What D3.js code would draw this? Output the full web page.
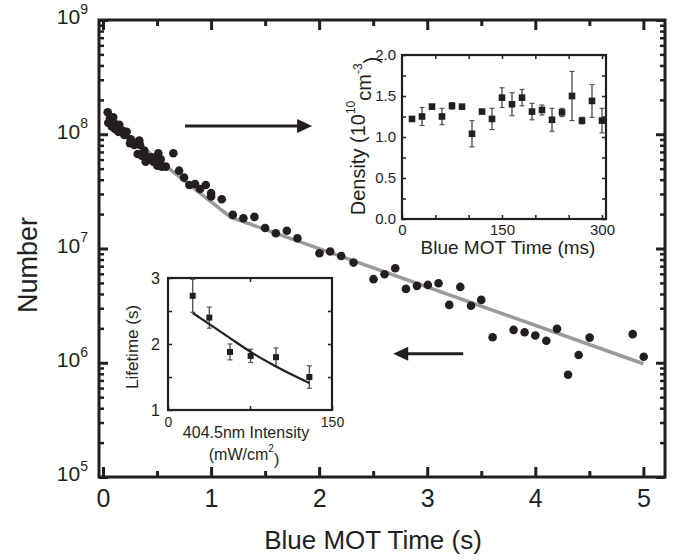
<!DOCTYPE html>
<html>
<head>
<meta charset="utf-8">
<script src="https://cdn.jsdelivr.net/npm/d3@7"></script>
<style>
body { margin: 0; background: #fff; }
text { font-family: "Liberation Sans", Arial, sans-serif; fill: #231f20; }
.axis path.domain { display: none; }
</style>
</head>
<body>
<svg width="677" height="560"></svg>
<script>
// main panel: atom number vs blue MOT time
const motTime = [0.044, 0.065, 0.049, 0.095, 0.102, 0.081, 0.111, 0.151, 0.142, 0.179, 0.204, 0.219, 0.197, 0.256, 0.25,
    0.29, 0.312, 0.336, 0.343, 0.321, 0.358, 0.382, 0.395, 0.419, 0.405, 0.451, 0.466, 0.497, 0.512, 0.534, 0.503,
    0.544, 0.581, 0.651, 0.704, 0.75, 0.799, 0.852, 0.898, 0.951, 1.0, 1.0, 1.099, 1.201, 1.299, 1.401, 1.5, 1.599,
    1.701, 1.799, 2.003, 2.102, 2.204, 2.318, 2.503, 2.605, 2.704, 2.803, 2.905, 3.006, 3.105, 3.204, 3.306, 3.405,
    3.5, 3.605, 3.799, 3.901, 4.0, 4.102, 4.201, 4.303, 4.401, 4.503, 4.901, 5.003];
const numberMillions = [156, 138, 126, 141, 125, 117, 111, 121, 105, 108, 102, 105, 98.6, 90.4, 83.4,
    80.6, 84.5, 87.9, 80.6, 67.2, 65.0, 71.9, 57.6, 60.4, 63.7, 62.9, 57.6, 60.4, 68.2, 60.4, 53.1,
    52.1, 52.1, 68.2, 48.0, 41.7, 36.0, 36.7, 33.2, 36.0, 30.5, 28.5, 27.0, 19.7, 18.4, 18.9, 15.1, 13.6,
    14.3, 12.3, 9.10, 9.40, 8.61, 7.53, 5.39, 5.96, 6.72, 4.43, 4.71, 4.80, 4.97, 3.21, 4.61, 3.15,
    3.55, 1.67, 1.94, 1.85, 1.73, 1.56, 1.98, 0.784, 1.17, 1.66, 1.78, 1.13];
const fitTime = [0.1, 0.6, 1.18, 5.0];
const fitMillions = [123, 51, 18.8, 0.98];
const timeTicks = [0, 1, 2, 3, 4, 5];
const decadeTicks = [1e5, 1e6, 1e7, 1e8, 1e9];

// inset: density vs time
const densTime = [15, 30, 45, 60, 75, 90, 105, 120, 135, 150, 165, 180, 195, 210, 225, 240, 255, 270, 285, 300];
const density = [1.22, 1.25, 1.37, 1.25, 1.38, 1.37, 1.04, 1.31, 1.22, 1.48, 1.40, 1.48, 1.31, 1.33, 1.21, 1.30, 1.50, 1.20, 1.44, 1.20];
const densErr = [0.03, 0.11, 0.03, 0.1, 0.04, 0.02, 0.16, 0.02, 0.13, 0.12, 0.14, 0.1, 0.1, 0.06, 0.14, 0.05, 0.3, 0.04, 0.2, 0.15];

// inset: lifetime vs intensity
const intensity = [22.6, 37.8, 56.7, 75.6, 98.8, 129.3];
const lifetime = [2.73, 2.40, 1.88, 1.82, 1.80, 1.50];
const lifeErr = [0.25, 0.16, 0.12, 0.1, 0.14, 0.17];
const lifeFitI = [22.6, 37.8, 56.7, 75.6, 98.8, 129.2];
const lifeFitT = [2.47, 2.30, 2.09, 1.88, 1.66, 1.41];

const ink = '#231f20';
const svg = d3.select('svg');

// ---------- main panel ----------
const x = d3.scaleLinear().domain([-0.037, 5.2]).range([99, 665]);
const y = d3.scaleLog().domain([1e5, 1e9]).range([477, 20]);

let minorY = [];
for (let e = 5; e < 9; e++) for (let m = 2; m < 10; m++) minorY.push(m * Math.pow(10, e));
const minorX = [0.5, 1.5, 2.5, 3.5, 4.5];

const styleAxis = (g, w) => {
    g.attr('class', 'axis');
    g.selectAll('.tick line').attr('stroke', ink).attr('stroke-width', w);
};

svg.append('g').attr('transform', 'translate(0,477)')
    .call(d3.axisBottom(x).tickValues(timeTicks).tickSize(-10).tickPadding(12).tickFormat(d3.format('d')))
    .call(g => styleAxis(g, 3))
    .call(g => g.selectAll('text').attr('font-size', 25).attr('fill', ink));
svg.append('g').attr('transform', 'translate(0,477)')
    .call(d3.axisBottom(x).tickValues(minorX).tickSize(-6).tickFormat(''))
    .call(g => styleAxis(g, 3));
svg.append('g').attr('transform', 'translate(0,20)')
    .call(d3.axisTop(x).tickValues(timeTicks).tickSize(-10).tickFormat(''))
    .call(g => styleAxis(g, 3));
svg.append('g').attr('transform', 'translate(0,20)')
    .call(d3.axisTop(x).tickValues(minorX).tickSize(-6).tickFormat(''))
    .call(g => styleAxis(g, 3));

svg.append('g').attr('transform', 'translate(99,0)')
    .call(d3.axisLeft(y).tickValues(decadeTicks).tickSize(-9).tickPadding(11).tickFormat(d => d))
    .call(g => styleAxis(g, 3))
    .call(g => g.selectAll('text').attr('dy', '0.38em').each(function(d) {
        const t = d3.select(this);
        t.text(null).attr('fill', ink);
        t.append('tspan').attr('font-size', 21).text('10');
        t.append('tspan').attr('font-size', 14).attr('dy', '-0.75em').text(Math.round(Math.log10(d)));
    }));
svg.append('g').attr('transform', 'translate(99,0)')
    .call(d3.axisLeft(y).tickValues(minorY).tickSize(-5).tickFormat(''))
    .call(g => styleAxis(g, 2.5));
svg.append('g').attr('transform', 'translate(665,0)')
    .call(d3.axisRight(y).tickValues(decadeTicks).tickSize(-9).tickFormat(''))
    .call(g => styleAxis(g, 3));
svg.append('g').attr('transform', 'translate(665,0)')
    .call(d3.axisRight(y).tickValues(minorY).tickSize(-5).tickFormat(''))
    .call(g => styleAxis(g, 2.5));

svg.append('rect')
    .attr('x', x.range()[0]).attr('y', y.range()[1])
    .attr('width', x.range()[1] - x.range()[0]).attr('height', y.range()[0] - y.range()[1])
    .attr('fill', 'none').attr('stroke', ink).attr('stroke-width', 3);

// fit line
const fitLine = d3.line().x(d => x(d[0])).y(d => y(d[1] * 1e6));
svg.append('path')
    .datum(fitTime.map((t, i) => [t, fitMillions[i]]))
    .attr('d', fitLine)
    .attr('fill', 'none').attr('stroke', '#9a9a9a').attr('stroke-width', 3.5);

svg.append('g').selectAll('circle')
    .data(motTime.map((t, i) => [t, numberMillions[i] * 1e6]))
    .join('circle')
    .attr('cx', d => x(d[0])).attr('cy', d => y(d[1]))
    .attr('r', 4.3).attr('fill', ink);

// axis titles
svg.append('text').attr('x', 373).attr('y', 549).attr('text-anchor', 'middle')
    .attr('font-size', 26).text('Blue MOT Time (s)');
svg.append('text').attr('transform', 'translate(37,265) rotate(-90)').attr('text-anchor', 'middle')
    .attr('font-size', 27).text('Number');

// arrows
const arrow = (x0, x1, yv) => {
    const px0 = x(x0), px1 = x(x1), py = y(yv);
    const dir = Math.sign(px1 - px0);
    svg.append('line').attr('x1', px0).attr('x2', px1 - dir * 12).attr('y1', py).attr('y2', py)
        .attr('stroke', ink).attr('stroke-width', 3);
    svg.append('path')
        .attr('d', `M${px1},${py} L${px1 - dir * 15},${py - 7} L${px1 - dir * 15},${py + 7} Z`)
        .attr('fill', ink);
};
arrow(0.759, 1.935, 1.18e8);
arrow(3.333, 2.685, 1.2e6);

// ---------- inset: density ----------
const x1 = d3.scaleLinear().domain([0, 306]).range([402, 606]);
const y1 = d3.scaleLinear().domain([0, 2]).range([219, 55]);

svg.append('rect').attr('x', 402).attr('y', 55).attr('width', 204).attr('height', 164).attr('fill', '#fff');

svg.append('g').attr('transform', 'translate(0,219)')
    .call(d3.axisBottom(x1).tickValues([0, 50, 100, 150, 200, 250, 300]).tickSize(-4).tickPadding(5)
        .tickFormat(d => d % 150 === 0 ? d : ''))
    .call(g => styleAxis(g, 1.5))
    .call(g => g.selectAll('text').attr('font-size', 15).attr('fill', ink));
svg.append('g').attr('transform', 'translate(0,55)')
    .call(d3.axisTop(x1).tickValues([50, 100, 150, 200, 250, 300]).tickSize(-4).tickFormat(''))
    .call(g => styleAxis(g, 1.5));
svg.append('g').attr('transform', 'translate(402,0)')
    .call(d3.axisLeft(y1).tickValues(d3.range(0, 2.01, 0.25)).tickSize(-4).tickPadding(6)
        .tickFormat(d => (d * 2) % 1 === 0 ? d3.format('.1f')(d) : ''))
    .call(g => styleAxis(g, 1.5))
    .call(g => g.selectAll('text').attr('font-size', 15).attr('fill', ink));
svg.append('g').attr('transform', 'translate(606,0)')
    .call(d3.axisRight(y1).tickValues(d3.range(0, 2.01, 0.25)).tickSize(-4).tickFormat(''))
    .call(g => styleAxis(g, 1.5));
svg.append('rect').attr('x', 402).attr('y', 55).attr('width', 204).attr('height', 164)
    .attr('fill', 'none').attr('stroke', ink).attr('stroke-width', 2.2);

const densG = svg.append('g');
densTime.forEach((t, i) => {
    const cx = x1(t), lo = y1(density[i] - densErr[i]), hi = y1(density[i] + densErr[i]);
    densG.append('line').attr('x1', cx).attr('x2', cx).attr('y1', lo).attr('y2', hi).attr('stroke', '#555').attr('stroke-width', 1.4);
    [lo, hi].forEach(v => densG.append('line').attr('x1', cx - 2.5).attr('x2', cx + 2.5).attr('y1', v).attr('y2', v)
        .attr('stroke', '#555').attr('stroke-width', 1.2));
    densG.append('rect').attr('x', cx - 3.3).attr('y', y1(density[i]) - 3.3).attr('width', 6.6).attr('height', 6.6).attr('fill', ink);
});

svg.append('text').attr('x', 508).attr('y', 254).attr('text-anchor', 'middle')
    .attr('font-size', 19).text('Blue MOT Time (ms)');
const dTitle = svg.append('text').attr('transform', 'translate(365,136) rotate(-90)').attr('text-anchor', 'middle')
    .attr('font-size', 20);
dTitle.append('tspan').text('Density (10');
dTitle.append('tspan').attr('font-size', 12).attr('dy', '-0.8em').text('10');
dTitle.append('tspan').attr('dy', '0.8em').text('cm');
dTitle.append('tspan').attr('font-size', 12).attr('dy', '-0.8em').text('-3');
dTitle.append('tspan').attr('dy', '0.8em').text(')');

// ---------- inset: lifetime ----------
const x2 = d3.scaleLinear().domain([0, 150]).range([168, 332]);
const y2 = d3.scaleLinear().domain([1, 3]).range([410, 278]);

svg.append('rect').attr('x', 168).attr('y', 278).attr('width', 164).attr('height', 132).attr('fill', '#fff');

svg.append('g').attr('transform', 'translate(0,410)')
    .call(d3.axisBottom(x2).tickValues([0, 75, 150]).tickSize(-4).tickPadding(7)
        .tickFormat(d => d === 75 ? '' : d))
    .call(g => styleAxis(g, 1.5))
    .call(g => g.selectAll('text').attr('font-size', 14).attr('fill', ink));
svg.append('g').attr('transform', 'translate(0,278)')
    .call(d3.axisTop(x2).tickValues([75]).tickSize(-4).tickFormat(''))
    .call(g => styleAxis(g, 1.5));
svg.append('g').attr('transform', 'translate(168,0)')
    .call(d3.axisLeft(y2).tickValues([1, 1.5, 2, 2.5, 3]).tickSize(-4).tickPadding(8)
        .tickFormat(d => d % 1 === 0 ? d : ''))
    .call(g => styleAxis(g, 1.5))
    .call(g => g.selectAll('text').attr('font-size', 16).attr('fill', ink));
svg.append('g').attr('transform', 'translate(332,0)')
    .call(d3.axisRight(y2).tickValues([1.5, 2, 2.5]).tickSize(-4).tickFormat(''))
    .call(g => styleAxis(g, 1.5));
svg.append('rect').attr('x', 168).attr('y', 278).attr('width', 164).attr('height', 132)
    .attr('fill', 'none').attr('stroke', ink).attr('stroke-width', 2.2);

const lifeG = svg.append('g');
intensity.forEach((v, i) => {
    const cx = x2(v), lo = y2(lifetime[i] - lifeErr[i]), hi = y2(lifetime[i] + lifeErr[i]);
    lifeG.append('line').attr('x1', cx).attr('x2', cx).attr('y1', lo).attr('y2', hi).attr('stroke', '#555').attr('stroke-width', 1.4);
    [lo, hi].forEach(v2 => lifeG.append('line').attr('x1', cx - 2.5).attr('x2', cx + 2.5).attr('y1', v2).attr('y2', v2)
        .attr('stroke', '#555').attr('stroke-width', 1.2));
    lifeG.append('rect').attr('x', cx - 3).attr('y', y2(lifetime[i]) - 3).attr('width', 6).attr('height', 6).attr('fill', ink);
});
svg.append('path')
    .datum(lifeFitI.map((v, i) => [v, lifeFitT[i]]))
    .attr('d', d3.line().x(d => x2(d[0])).y(d => y2(d[1])).curve(d3.curveMonotoneX))
    .attr('fill', 'none').attr('stroke', ink).attr('stroke-width', 2.2);

svg.append('text').attr('transform', 'translate(138,347) rotate(-90)').attr('text-anchor', 'middle')
    .attr('font-size', 17).text('Lifetime (s)');
svg.append('text').attr('x', 246).attr('y', 438).attr('text-anchor', 'middle')
    .attr('font-size', 16).text('404.5nm Intensity');
const uTitle = svg.append('text').attr('x', 244).attr('y', 460).attr('text-anchor', 'middle').attr('font-size', 16);
uTitle.append('tspan').text('(mW/cm');
uTitle.append('tspan').attr('font-size', 10).attr('dy', '-0.8em').text('2');
uTitle.append('tspan').attr('dy', '0.8em').text(')');
</script>
</body>
</html>
